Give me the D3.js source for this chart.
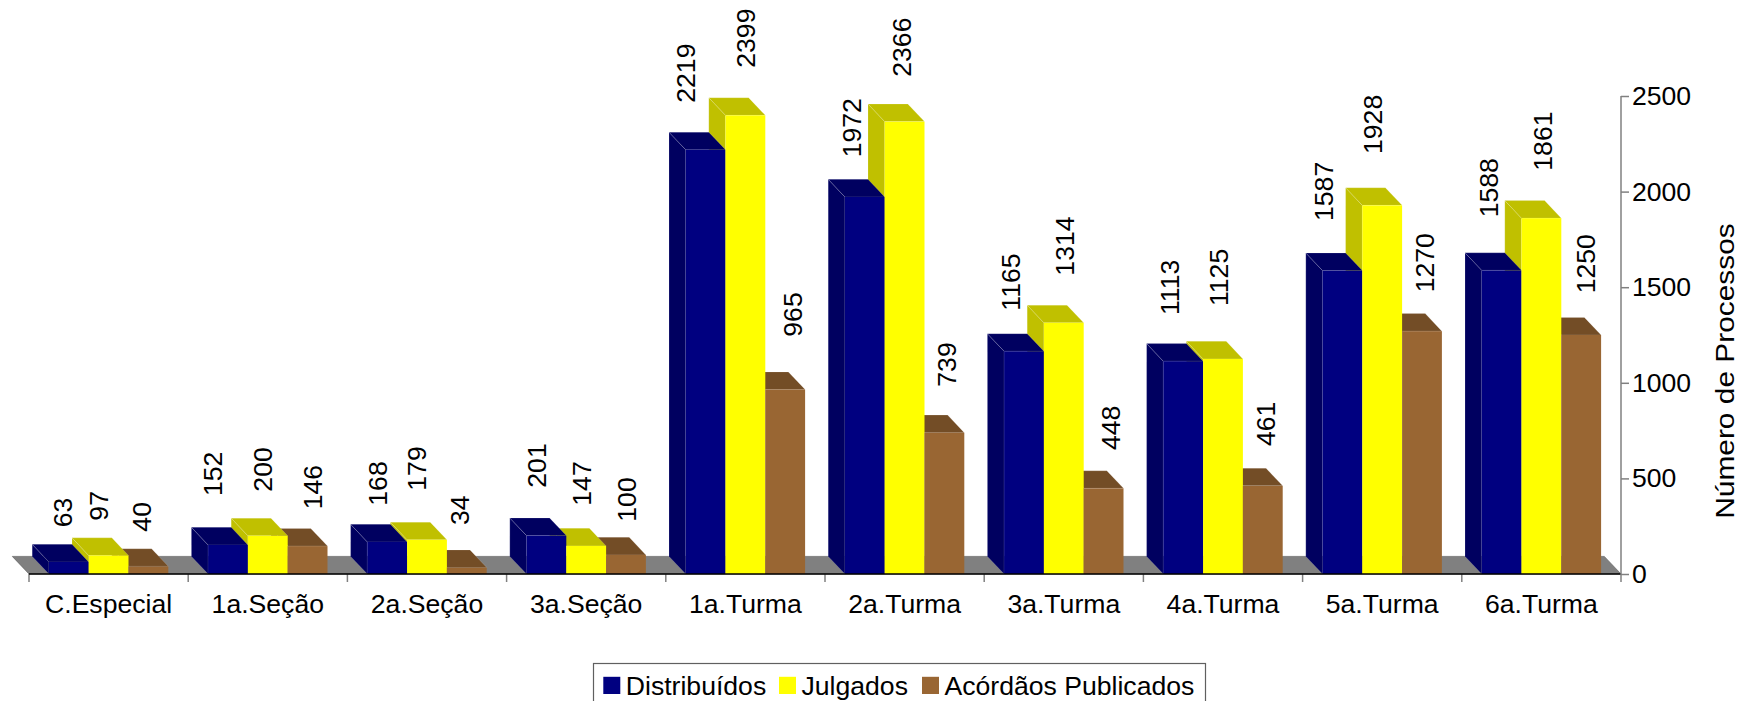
<!DOCTYPE html>
<html>
<head>
<meta charset="utf-8">
<script src="https://cdn.jsdelivr.net/npm/d3@7"></script>
<style>
    html, body { margin: 0; padding: 0; background: #fff; }
    svg { display: block; }
    text { font-family: "Liberation Sans", Arial, sans-serif; font-size: 26.6px; fill: #000; }
</style>
</head>
<body>
<svg id="chart" width="1742" height="701"></svg>
<script>
var categories = ["C.Especial", "1a.Seção", "2a.Seção", "3a.Seção", "1a.Turma", "2a.Turma", "3a.Turma", "4a.Turma", "5a.Turma", "6a.Turma"];
var distribuidos = [63, 152, 168, 201, 2219, 1972, 1165, 1113, 1587, 1588];
var julgados = [97, 200, 179, 147, 2399, 2366, 1314, 1125, 1928, 1861];
var acordaos = [40, 146, 34, 100, 965, 739, 448, 461, 1270, 1250];
var seriesNames = ["Distribuídos", "Julgados", "Acórdãos Publicados"];
var yTicks = [0, 500, 1000, 1500, 2000, 2500];

// the labels were placed by hand in the original, so each one has its own nudge
var labelNudgeX = [
    [-6.6, -15.5, -9.9, -9.7, -19.6, -13.1, -13.3, -13.2, -19.1, -13.3],
    [-10.1, -5.1, -10.3, -4.5, 0.6, -2.9, 1.2, -4.7, -9.9, 1.3],
    [-6.4, 5.1, -6.8, 0.7, 7.1, 2.3, 7.1, 3.2, 3, 4.8]
];
var labelNudgeY = [
    [-34.7, -48.9, -36.2, -47.9, -47, -39.6, -40.6, -46.2, -49.6, -53.1],
    [-34.8, -44.1, -49.1, -40.2, -47.6, -44.9, -47.1, -52.9, -51.4, -47.5],
    [-34.7, -36.8, -42.5, -33.2, -52.8, -46, -38.3, -39.9, -38.9, -41.7]
];

var seriesValues = [distribuidos, julgados, acordaos];
var frontColors = ["#000080", "#ffff00", "#996633"];
var shadeColors = ["#000060", "#c0c000", "#734d26"];

var depthX = 16.7;
var depthY = 17.6;

var svg = d3.select("#chart");

var x0 = d3.scaleBand()
    .domain(categories)
    .range([29, 1621])
    .paddingInner(0.25)
    .paddingOuter(0.125);
var x1 = d3.scaleBand()
    .domain(d3.range(seriesNames.length))
    .range([0, x0.bandwidth()]);
var y = d3.scaleLinear()
    .domain([0, 2500])
    .range([574, 96]);

var baseY = y(0);
var groupEdge = function (i) { return x0.range()[0] + i * x0.step(); };

// floor
svg.append("polygon")
    .attr("points", [
        [groupEdge(0), baseY],
        [groupEdge(0) - depthX, baseY - depthY],
        [groupEdge(categories.length) - depthX, baseY - depthY],
        [groupEdge(categories.length), baseY]
    ].join(" "))
    .attr("fill", "#808080")
    .attr("stroke", "#555555")
    .attr("stroke-width", 0.6);

// bars: back faces right to left, then all the fronts on top
var groups = svg.selectAll("g.group")
    .data(categories)
    .enter().append("g")
    .attr("class", "group");

groups.each(function (cat, i) {
    var g = d3.select(this);

    d3.range(seriesValues.length).reverse().forEach(function (s) {
        var left = x0(cat) + x1(s);
        var right = left + x1.bandwidth();
        var top = y(seriesValues[s][i]);

        g.append("polygon")
            .attr("class", "side")
            .attr("points", [
                [left, top],
                [left - depthX, top - depthY],
                [left - depthX, baseY - depthY],
                [left, baseY]
            ].join(" "))
            .attr("fill", shadeColors[s])
            .attr("stroke", "#fff")
            .attr("stroke-opacity", 0.22)
            .attr("stroke-width", 0.7);

        g.append("polygon")
            .attr("class", "top")
            .attr("points", [
                [left, top],
                [left - depthX, top - depthY],
                [right - depthX, top - depthY],
                [right, top]
            ].join(" "))
            .attr("fill", shadeColors[s])
            .attr("stroke", "#fff")
            .attr("stroke-opacity", 0.22)
            .attr("stroke-width", 0.7);
    });

    seriesValues.forEach(function (values, s) {
        var top = y(values[i]);
        g.append("rect")
            .attr("class", "front")
            .attr("x", x0(cat) + x1(s))
            .attr("y", top)
            .attr("width", x1.bandwidth())
            .attr("height", baseY - top)
            .attr("fill", frontColors[s]);
    });
});

// value labels
seriesValues.forEach(function (values, s) {
    svg.selectAll("text.value-" + s)
        .data(values)
        .enter().append("text")
        .attr("class", "value-" + s)
        .attr("transform", function (d, i) {
            var cx = x0(categories[i]) + x1(s) + x1.bandwidth() / 2 + labelNudgeX[s][i];
            return "translate(" + cx + "," + (y(d) + labelNudgeY[s][i]) + ") rotate(-90)";
        })
        .attr("dy", "0.35em")
        .text(function (d) { return d; });
});

// x axis: labels from the band scale, ticks sit between the groups
var xAxis = svg.append("g")
    .attr("class", "x-axis")
    .attr("transform", "translate(0," + baseY + ")")
    .call(d3.axisBottom(x0).tickSize(0).tickPadding(0));
xAxis.select(".domain").remove();
xAxis.selectAll("text")
    .attr("y", 38.5)
    .attr("dy", 0)
    .style("font-size", "26.6px")
    .style("font-family", '"Liberation Sans", Arial, sans-serif');

svg.selectAll("line.x-tick")
    .data(d3.range(categories.length))
    .enter().append("line")
    .attr("class", "x-tick")
    .attr("x1", groupEdge)
    .attr("x2", groupEdge)
    .attr("y1", baseY)
    .attr("y2", baseY + 8)
    .attr("stroke", "#808080")
    .attr("stroke-width", 1.5);

svg.append("line")
    .attr("x1", groupEdge(0))
    .attr("x2", groupEdge(categories.length))
    .attr("y1", baseY)
    .attr("y2", baseY)
    .attr("stroke", "#000")
    .attr("stroke-width", 1.5);

// y axis
var yAxis = svg.append("g")
    .attr("class", "y-axis")
    .attr("transform", "translate(1621,0)")
    .call(d3.axisRight(y).tickValues(yTicks).tickFormat(d3.format("d")).tickSize(8).tickPadding(3).tickSizeOuter(0));
yAxis.select(".domain")
    .attr("stroke", "#808080")
    .attr("stroke-width", 1.5)
    .attr("d", "M0," + y(2500) + "V" + (baseY + 8));
yAxis.selectAll("line")
    .attr("stroke", "#808080")
    .attr("stroke-width", 1.5);
yAxis.selectAll("text")
    .style("font-size", "26.6px")
    .style("font-family", '"Liberation Sans", Arial, sans-serif');

svg.append("text")
    .attr("transform", "translate(1725,371) rotate(-90) scale(1.124,1)")
    .attr("text-anchor", "middle")
    .attr("dy", "0.35em")
    .text("Número de Processos");

// legend, cut off by the bottom of the picture as in the original
var legendX = [603.3, 779, 922];
var legend = svg.append("g").attr("class", "legend");
legend.append("rect")
    .attr("x", 593.5)
    .attr("y", 663.5)
    .attr("width", 612)
    .attr("height", 50)
    .attr("fill", "#fff")
    .attr("stroke", "#606060")
    .attr("stroke-width", 1.2);
seriesNames.forEach(function (name, s) {
    legend.append("rect")
        .attr("x", legendX[s])
        .attr("y", 676.8)
        .attr("width", 17)
        .attr("height", 17.2)
        .attr("fill", frontColors[s]);
    legend.append("text")
        .attr("x", legendX[s] + 22.5)
        .attr("y", 695)
        .text(name);
});
</script>
</body>
</html>
